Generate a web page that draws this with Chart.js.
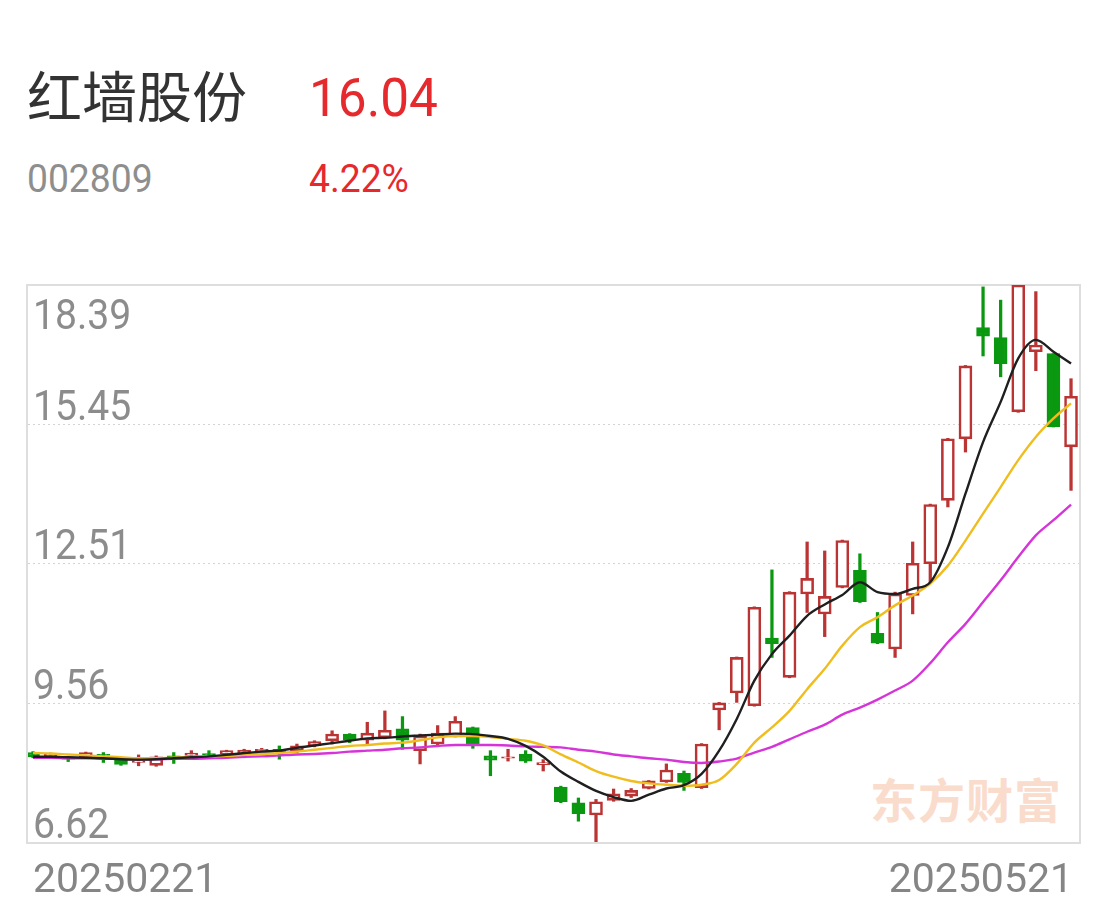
<!DOCTYPE html>
<html><head><meta charset="utf-8">
<script src="https://cdn.jsdelivr.net/npm/chart.js@4/dist/chart.umd.min.js"></script>
<style>
html,body{margin:0;padding:0;background:#fff;width:1108px;height:910px;overflow:hidden;}
#wrap{position:relative;width:1108px;height:910px;}
.t{position:absolute;white-space:nowrap;line-height:1;}
#name{left:27px;top:66px;font-size:55px;font-family:"Noto Sans CJK SC";color:#333;}
#price{left:309px;top:71px;font-size:54px;font-family:Roboto;color:#e5292d;transform:scaleX(0.95);transform-origin:left top;}
#code{left:27px;top:160px;font-size:38px;font-family:Roboto;color:#8e8e8e;transform:scaleX(0.98);transform-origin:left top;}
#pct{left:309px;top:160px;font-size:38px;font-family:Roboto;color:#e5292d;transform:scaleX(0.98);transform-origin:left top;}
#wm{left:870px;top:774px;font-size:47px;font-weight:bold;font-family:"Noto Sans CJK SC";color:#fadccd;letter-spacing:1px;z-index:0;}
canvas{position:absolute;left:0;top:0;z-index:1;}
</style>
</head><body>
<div id="wrap">
<div class="t" id="name">红墙股份</div>
<div class="t" id="price">16.04</div>
<div class="t" id="code">002809</div>
<div class="t" id="pct">4.22%</div>
<div class="t" id="wm">东方财富</div>
<canvas id="c" width="1108" height="910"></canvas>
</div>
<script>
const dates = ['20250221','20250224','20250225','20250226','20250227','20250228',
'20250303','20250304','20250305','20250306','20250307','20250310','20250311','20250312','20250313','20250314',
'20250317','20250318','20250319','20250320','20250321','20250324','20250325','20250326','20250327','20250328','20250331',
'20250401','20250402','20250403','20250407','20250408','20250409','20250410','20250411','20250414','20250415','20250416','20250417','20250418',
'20250421','20250422','20250423','20250424','20250425','20250428','20250429','20250430',
'20250506','20250507','20250508','20250509','20250512','20250513','20250514','20250515','20250516','20250519','20250520','20250521'];

const openP  = [8.51,8.44,8.40,8.42,8.47,8.39,8.30,8.24,8.44,8.45,8.49,8.48,8.48,8.55,8.58,8.55,8.65,8.76,8.90,8.77,
                8.82,9.01,8.55,8.69,8.84,9.04,8.44,8.39,8.48,8.25,7.78,7.45,7.19,7.50,7.59,7.75,7.89,8.07,7.77,9.41,
                9.77,9.50,10.93,10.10,11.86,11.44,12.00,12.36,11.03,10.70,11.83,12.50,13.84,15.14,17.49,17.28,15.71,16.98,16.94,14.97];
const closeP = [8.42,8.48,8.37,8.51,8.45,8.26,8.34,8.42,8.42,8.50,8.46,8.55,8.56,8.58,8.53,8.65,8.74,8.90,8.77,8.92,
                8.98,8.77,8.86,8.92,9.17,8.69,8.35,8.42,8.33,8.30,7.47,7.22,7.47,7.64,7.71,7.91,8.14,7.88,8.69,9.56,
                10.52,11.58,10.81,11.90,12.19,11.81,12.99,11.70,10.82,11.86,12.51,13.75,15.14,16.68,17.31,16.73,18.39,17.12,15.39,16.04];
const highP  = [8.53,8.50,8.42,8.52,8.51,8.41,8.46,8.44,8.51,8.55,8.55,8.56,8.58,8.60,8.65,8.69,8.76,8.97,8.91,9.15,
                9.39,9.27,8.90,9.08,9.27,9.05,8.55,8.58,8.55,8.36,7.80,7.55,7.52,7.74,7.75,7.92,8.27,8.12,8.70,9.57,
                10.53,11.59,12.37,11.91,12.96,12.77,13.00,12.71,11.47,11.90,12.96,13.76,15.15,16.69,18.35,18.07,18.39,18.25,16.94,16.41];
const lowP   = [8.40,8.42,8.32,8.40,8.30,8.24,8.23,8.22,8.28,8.40,8.42,8.46,8.40,8.52,8.37,8.51,8.63,8.69,8.72,8.69,
                8.80,8.58,8.27,8.65,8.84,8.60,8.02,8.33,8.30,8.12,7.45,7.06,6.62,7.48,7.56,7.74,7.88,7.71,7.75,8.99,
                9.57,9.49,10.52,10.09,11.47,10.96,11.99,11.68,10.81,10.52,11.44,12.11,13.70,14.86,16.89,16.45,15.70,16.58,15.39,14.05];

const ma5  = [8.42,8.42,8.41,8.40,8.39,8.37,8.36,8.37,8.39,8.41,8.43,8.46,8.50,8.53,8.55,8.61,8.66,8.71,8.76,8.81,
              8.82,8.85,8.87,8.89,8.91,8.90,8.86,8.80,8.65,8.42,8.11,7.89,7.70,7.57,7.49,7.62,7.75,7.82,8.06,8.55,
              9.22,10.03,10.59,10.98,11.40,11.64,11.84,12.11,11.90,11.86,11.97,12.11,12.85,13.98,15.07,15.92,16.84,17.23,16.98,16.73];
const ma10 = [8.50,8.49,8.47,8.45,8.43,8.41,8.39,8.39,8.40,8.42,8.43,8.44,8.46,8.48,8.50,8.53,8.57,8.61,8.65,8.67,
              8.70,8.72,8.77,8.83,8.86,8.86,8.84,8.80,8.76,8.66,8.47,8.30,8.12,8.00,7.91,7.86,7.83,7.81,7.83,7.93,
              8.27,8.72,9.04,9.39,9.85,10.28,10.77,11.16,11.37,11.62,11.83,12.08,12.46,12.99,13.56,14.12,14.69,15.18,15.57,15.89];
const ma20 = [8.40,8.40,8.39,8.39,8.38,8.38,8.37,8.37,8.38,8.38,8.39,8.40,8.42,8.43,8.45,8.47,8.48,8.50,8.53,8.55,
              8.57,8.60,8.62,8.65,8.67,8.67,8.67,8.66,8.64,8.63,8.62,8.57,8.53,8.47,8.43,8.39,8.36,8.31,8.29,8.32,
              8.38,8.51,8.63,8.79,8.95,9.10,9.31,9.46,9.63,9.82,10.03,10.40,10.84,11.23,11.69,12.15,12.64,13.10,13.42,13.75];

const yTicks = [6.62, 9.56, 12.51, 15.45, 18.39];
const xTickLabels = [dates[0], dates[dates.length - 1]];

const RED = '#bb3434', GREEN = '#0b9811';
const idx = dates.map((d, i) => i);
const isUp = idx.map(i => closeP[i] >= openP[i]);
const candleColor = idx.map(i => isUp[i] ? RED : GREEN);

function lineDs(vals, color) {
  return {type: 'line', data: idx.map(i => ({x: i, y: vals[i]})), borderColor: color, borderWidth: 2.4,
    pointRadius: 0, cubicInterpolationMode: 'monotone', fill: false, order: 0};
}

const deco = {
  id: 'deco',
  beforeDatasetsDraw(chart) {
    const {ctx, chartArea: a, scales: {x, y}} = chart;
    ctx.save();
    ctx.strokeStyle = '#d4d4d4'; ctx.lineWidth = 1; ctx.setLineDash([2, 3]);
    yTicks.slice(1, -1).forEach(v => {
      const py = Math.round(y.getPixelForValue(v)) + 0.5;
      ctx.beginPath(); ctx.moveTo(a.left, py); ctx.lineTo(a.right, py); ctx.stroke();
    });
    ctx.setLineDash([]);
    ctx.strokeStyle = '#dedede'; ctx.lineWidth = 2;
    ctx.strokeRect(a.left - 1, a.top, a.right - a.left + 1, a.bottom - a.top + 1);
    ctx.fillStyle = '#8c8c8c';
    ctx.font = '43px Roboto';
    ctx.textAlign = 'left'; ctx.textBaseline = 'alphabetic';
    yTicks.forEach((v, k) => {
      const py = y.getPixelForValue(v);
      const by = (k === yTicks.length - 1) ? py + 44 : py - 4;
      ctx.save();
      ctx.translate(33, by);
      ctx.scale(0.91, 1);
      ctx.fillText(v.toFixed(2), 0, 0);
      ctx.restore();
    });
    ctx.fillStyle = '#858585';
    ctx.font = '41px Roboto';
    ctx.textAlign = 'left';
    ctx.fillText(xTickLabels[0], x.getPixelForValue(0) + 0, 892);
    ctx.textAlign = 'right';
    ctx.fillText(xTickLabels[1], x.getPixelForValue(dates.length - 1) + 2, 892);
    ctx.restore();
  }
};

new Chart(document.getElementById('c'), {
  type: 'bar',
  data: {
    datasets: [
      lineDs(ma5, '#1f1f1f'),
      lineDs(ma10, '#f0bd1f'),
      lineDs(ma20, '#d535d8'),
      {type: 'bar', data: idx.map(i => ({x: i, y: [Math.min(openP[i], closeP[i]), Math.max(openP[i], closeP[i])]})),
       backgroundColor: idx.map(i => isUp[i] ? '#ffffff' : GREEN), borderColor: candleColor,
       borderWidth: 2.6, borderSkipped: false, barThickness: 13, grouped: false, order: 1},
      {type: 'bar', data: idx.map(i => ({x: i, y: [lowP[i], highP[i]]})),
       backgroundColor: candleColor, borderWidth: 0, barThickness: 2.6, grouped: false, order: 2}
    ]
  },
  options: {
    responsive: false, animation: false, devicePixelRatio: 1,
    layout: {padding: {left: 28, right: 28, top: 285, bottom: 68}},
    plugins: {legend: {display: false}, tooltip: {enabled: false}},
    scales: {
      x: {type: 'linear', display: false, offset: false, min: -0.285, max: 59.51},
      y: {display: false, min: 6.62, max: 18.39}
    }
  },
  plugins: [deco]
});
</script>
</body></html>
